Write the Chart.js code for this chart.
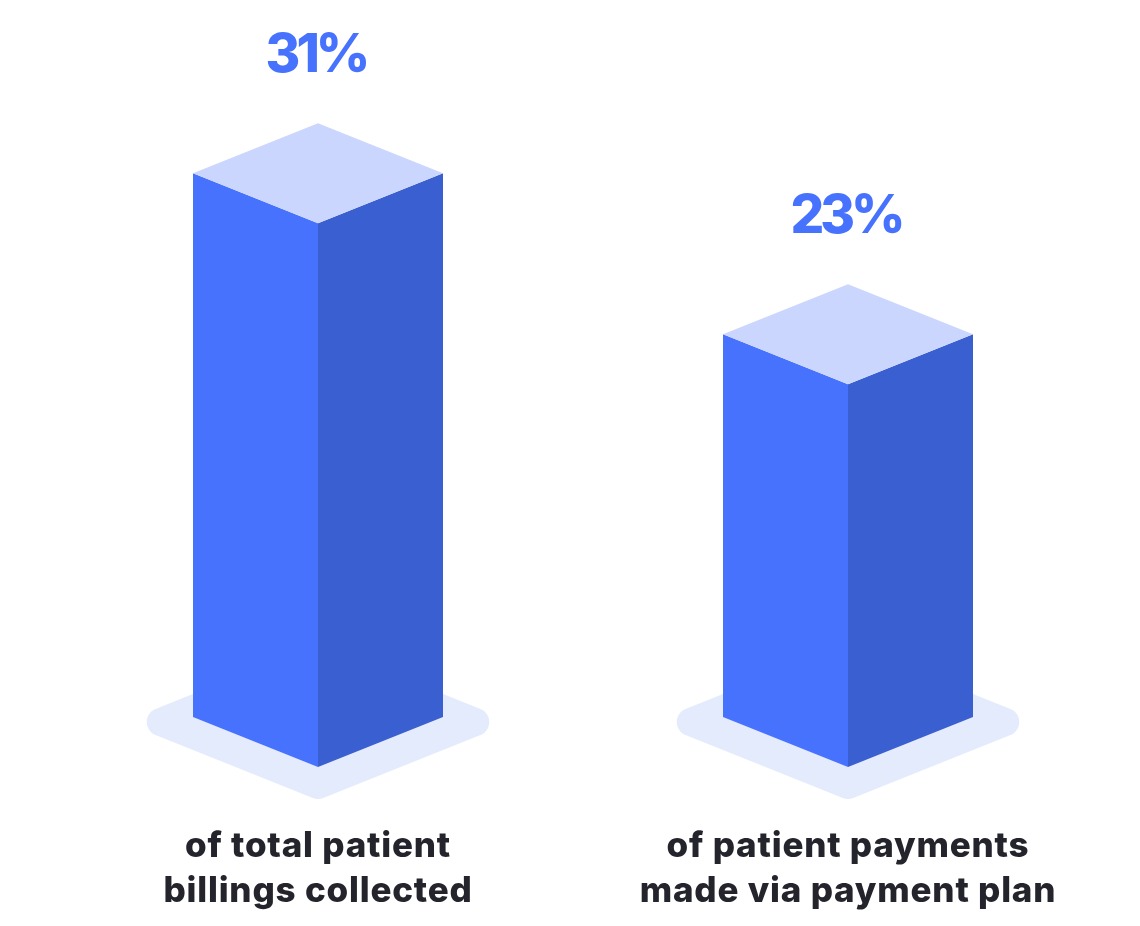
<!DOCTYPE html>
<html>
<head>
<meta charset="utf-8">
<script src="https://cdn.jsdelivr.net/npm/chart.js@4.4.0/dist/chart.umd.min.js"></script>
<style>
  html, body { margin: 0; padding: 0; background: #ffffff; }
  #wrap { width: 1140px; height: 926px; }
</style>
</head>
<body>
<div id="wrap"><canvas id="bars"></canvas></div>
<script>
// Data
var categories = [
    ["of total patient", "billings collected"],
    ["of patient payments", "made via payment plan"]
];
var values = [31, 23];
var valueLabels = ["31%", "23%"];

// Colours
var leftFace = "#4672fe";
var rightFace = "#3a5fd0";
var topFace = "#cad6fd";
var shadowColor = "#e4ebfd";
var valueColor = "#4672fe";
var textColor = "#24242c";

// draws a polygon with rounded corners
function roundedPoly(ctx, pts, r) {
    ctx.beginPath();
    var n = pts.length;
    var start = [(pts[0][0] + pts[1][0]) / 2, (pts[0][1] + pts[1][1]) / 2];
    ctx.moveTo(start[0], start[1]);
    for (var i = 1; i <= n; i++) {
        var p = pts[i % n];
        var q = pts[(i + 1) % n];
        ctx.arcTo(p[0], p[1], q[0], q[1], r);
    }
    ctx.closePath();
}

function poly(ctx, pts, color) {
    ctx.beginPath();
    ctx.moveTo(pts[0][0], pts[0][1]);
    for (var i = 1; i < pts.length; i++) ctx.lineTo(pts[i][0], pts[i][1]);
    ctx.closePath();
    ctx.fillStyle = color;
    ctx.fill();
}

// 3D box plugin
var isoBars = {
    id: "isoBars",
    beforeDatasetsDraw: function (chart) {
        var ctx = chart.ctx;
        var meta = chart.getDatasetMeta(0);
        meta.data.forEach(function (bar) {
            var x = bar.x, base = bar.base, hw = bar.width / 2;
            var sw = hw + 70, sh = 78, sy = base - 45;
            ctx.save();
            roundedPoly(ctx, [[x - sw, sy], [x, sy + sh], [x + sw, sy], [x, sy - sh]], 14);
            ctx.fillStyle = shadowColor;
            ctx.fill();
            ctx.restore();
        });
    },
    afterDatasetsDraw: function (chart) {
        var ctx = chart.ctx;
        var meta = chart.getDatasetMeta(0);
        var xScale = chart.scales.x;
        meta.data.forEach(function (bar, i) {
            var x = bar.x, y = bar.y, base = bar.base, hw = bar.width / 2;
            var d = hw * 0.4;
            ctx.save();
            poly(ctx, [[x - hw, y - d], [x, y], [x, base], [x - hw, base - d]], leftFace);
            poly(ctx, [[x, y], [x + hw, y - d], [x + hw, base - d], [x, base]], rightFace);
            poly(ctx, [[x, y - 2 * d], [x + hw, y - d], [x, y], [x - hw, y - d]], topFace);

            // value label
            ctx.fillStyle = valueColor;
            ctx.textAlign = "center";
            ctx.textBaseline = "alphabetic";
            ctx.font = "800 53px Inter, 'Noto Sans', sans-serif";
            ctx.letterSpacing = "-4px";
            ctx.fillText(valueLabels[i], x - 2, y - 2 * d - 51);

            // category label
            var cx = xScale.getPixelForValue(i);
            ctx.fillStyle = textColor;
            ctx.font = "800 35px Inter, 'Noto Sans', sans-serif";
            ctx.letterSpacing = "0.8px";
            categories[i].forEach(function (line, k) {
                ctx.fillText(line, cx, base + 90 + k * 45);
            });
            ctx.restore();
        });
    }
};

var ctx1 = document.getElementById("bars").getContext("2d");
var myChart1 = new Chart(ctx1, {
    type: "bar",
    data: {
        labels: categories,
        datasets: [{
            data: values,
            base: 4,
            backgroundColor: "rgba(0,0,0,0)",
            barThickness: 250
        }]
    },
    options: {
        responsive: true,
        maintainAspectRatio: false,
        animation: false,
        layout: { padding: { top: 42, bottom: 159, left: 53, right: 27 } },
        plugins: {
            legend: { display: false },
            tooltip: { enabled: false }
        },
        scales: {
            x: { display: false },
            y: { display: false, min: 4, max: 40 }
        }
    },
    plugins: [isoBars]
});
</script>
</body>
</html>
